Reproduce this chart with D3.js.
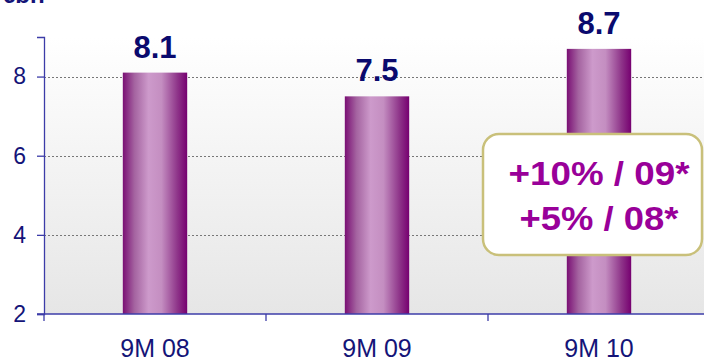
<!DOCTYPE html>
<html>
<head>
<meta charset="utf-8">
<script src="https://cdn.jsdelivr.net/npm/d3@7"></script>
<style>
  body { margin: 0; background: #fff; }
  svg { display: block; font-family: Arial, "Liberation Sans", sans-serif; }
</style>
</head>
<body>
<div id="chart"></div>
<script>
// values
const categories = ['9M 08', '9M 09', '9M 10'];
const values = [8.1, 7.5, 8.7];
const yTicks = [2, 4, 6, 8];
const unitLabel = '€bn';
const noteLines = ['+10% / 09*', '+5% / 08*'];

const width = 704;
const height = 363;
const margin = { t: 37, r: 0, b: 49, l: 44 };
const innerW = width - margin.l - margin.r;
const innerH = height - margin.t - margin.b;

const svg = d3
  .select('#chart')
  .append('svg')
  .attr('width', width)
  .attr('height', height);

const defs = svg.append('defs');

// plot background: white to light grey
const bg = defs.append('linearGradient').attr('id', 'bg').attr('x1', 0).attr('y1', 0).attr('x2', 0).attr('y2', 1);
bg.append('stop').attr('offset', '0%').attr('stop-color', '#ffffff');
bg.append('stop').attr('offset', '100%').attr('stop-color', '#e6e6e6');

// bar gradient: dark purple edges, light lilac centre
const bar = defs.append('linearGradient').attr('id', 'bar').attr('x1', 0).attr('y1', 0).attr('x2', 1).attr('y2', 0);
bar.append('stop').attr('offset', '0%').attr('stop-color', '#7a0f74');
bar.append('stop').attr('offset', '18%').attr('stop-color', '#a463a0');
bar.append('stop').attr('offset', '40%').attr('stop-color', '#cd9acb');
bar.append('stop').attr('offset', '60%').attr('stop-color', '#c48ec1');
bar.append('stop').attr('offset', '85%').attr('stop-color', '#8e3489');
bar.append('stop').attr('offset', '100%').attr('stop-color', '#760070');

const g = svg.append('g').attr('transform', `translate(${margin.l}, ${margin.t})`);

const x = d3.scaleBand().domain(categories).range([0, 666]).paddingInner(0.71).paddingOuter(0.355);
const y = d3.scaleLinear().domain([2, 9]).range([innerH, 0]);

g.append('rect')
  .attr('x', 0)
  .attr('y', 0)
  .attr('width', innerW)
  .attr('height', innerH)
  .attr('fill', 'url(#bg)');

// grid lines
g.selectAll('.grid')
  .data(yTicks.filter((d) => d > 2))
  .join('line')
  .attr('class', 'grid')
  .attr('x1', 0)
  .attr('x2', innerW)
  .attr('y1', (d) => Math.round(y(d)) + 0.5)
  .attr('y2', (d) => Math.round(y(d)) + 0.5)
  .attr('stroke', '#777')
  .attr('stroke-dasharray', '2,2');

// bars
g.selectAll('.bar')
  .data(values)
  .join('rect')
  .attr('class', 'bar')
  .attr('x', (d, i) => x(categories[i]))
  .attr('y', (d) => y(d))
  .attr('width', x.bandwidth())
  .attr('height', (d) => innerH - y(d))
  .attr('fill', 'url(#bar)');

// value labels
g.selectAll('.val')
  .data(values)
  .join('text')
  .attr('class', 'val')
  .attr('x', (d, i) => x(categories[i]) + x.bandwidth() / 2)
  .attr('y', (d) => y(d) - 15)
  .attr('text-anchor', 'middle')
  .attr('font-size', 31)
  .attr('font-weight', 'bold')
  .attr('fill', '#0a0a6e')
  .text((d) => d.toFixed(1));

// y axis
const yAxis = g.append('g')
  .call(d3.axisLeft(y).tickValues(yTicks).tickSize(7).tickFormat(d3.format('d')));
yAxis.select('.domain').attr('stroke', '#3c3ca8').attr('stroke-width', 1.3);
yAxis.selectAll('.tick line').attr('stroke', '#3c3ca8').attr('stroke-width', 1.3);
yAxis.selectAll('.tick text')
  .attr('font-size', 23)
  .attr('fill', '#141478')
  .attr('x', -18)
  .attr('font-family', 'Arial, "Liberation Sans", sans-serif');

// x axis (category boundaries)
const xAxis = g.append('g').attr('transform', `translate(0, ${innerH})`);
xAxis.append('line')
  .attr('x1', -7)
  .attr('x2', innerW)
  .attr('y1', 0)
  .attr('y2', 0)
  .attr('stroke', '#3c3ca8')
  .attr('stroke-width', 1.3);
xAxis.selectAll('.bound')
  .data(categories)
  .join('line')
  .attr('class', 'bound')
  .attr('x1', (d) => x(d) - x.step() * 0.355)
  .attr('x2', (d) => x(d) - x.step() * 0.355)
  .attr('y1', 0)
  .attr('y2', 7)
  .attr('stroke', '#3c3ca8')
  .attr('stroke-width', 1.3);
xAxis.selectAll('.cat')
  .data(categories)
  .join('text')
  .attr('class', 'cat')
  .attr('x', (d) => x(d) + x.bandwidth() / 2)
  .attr('y', 43)
  .attr('text-anchor', 'middle')
  .attr('font-size', 25)
  .attr('fill', '#141478')
  .text((d) => d);

// clipped unit label at the very top
svg.append('text')
  .attr('x', 2)
  .attr('y', 3)
  .attr('font-size', 24)
  .attr('font-weight', 'bold')
  .attr('fill', '#141478')
  .text(unitLabel);

// growth note box
const note = svg.append('g').attr('transform', 'translate(483, 134)');
note.append('rect')
  .attr('x', 0)
  .attr('y', 0)
  .attr('width', 219)
  .attr('height', 121)
  .attr('rx', 16)
  .attr('fill', '#fff')
  .attr('stroke', '#c9c07a')
  .attr('stroke-width', 2.5);
note.selectAll('text')
  .data(noteLines)
  .join('text')
  .attr('x', 116)
  .attr('y', (d, i) => 51 + i * 45)
  .attr('text-anchor', 'middle')
  .attr('font-size', 33)
  .attr('font-weight', 'bold')
  .attr('fill', '#990099')
  .attr('textLength', (d, i) => (i === 0 ? 181 : 159))
  .attr('lengthAdjust', 'spacingAndGlyphs')
  .text((d) => d);
</script>
</body>
</html>
